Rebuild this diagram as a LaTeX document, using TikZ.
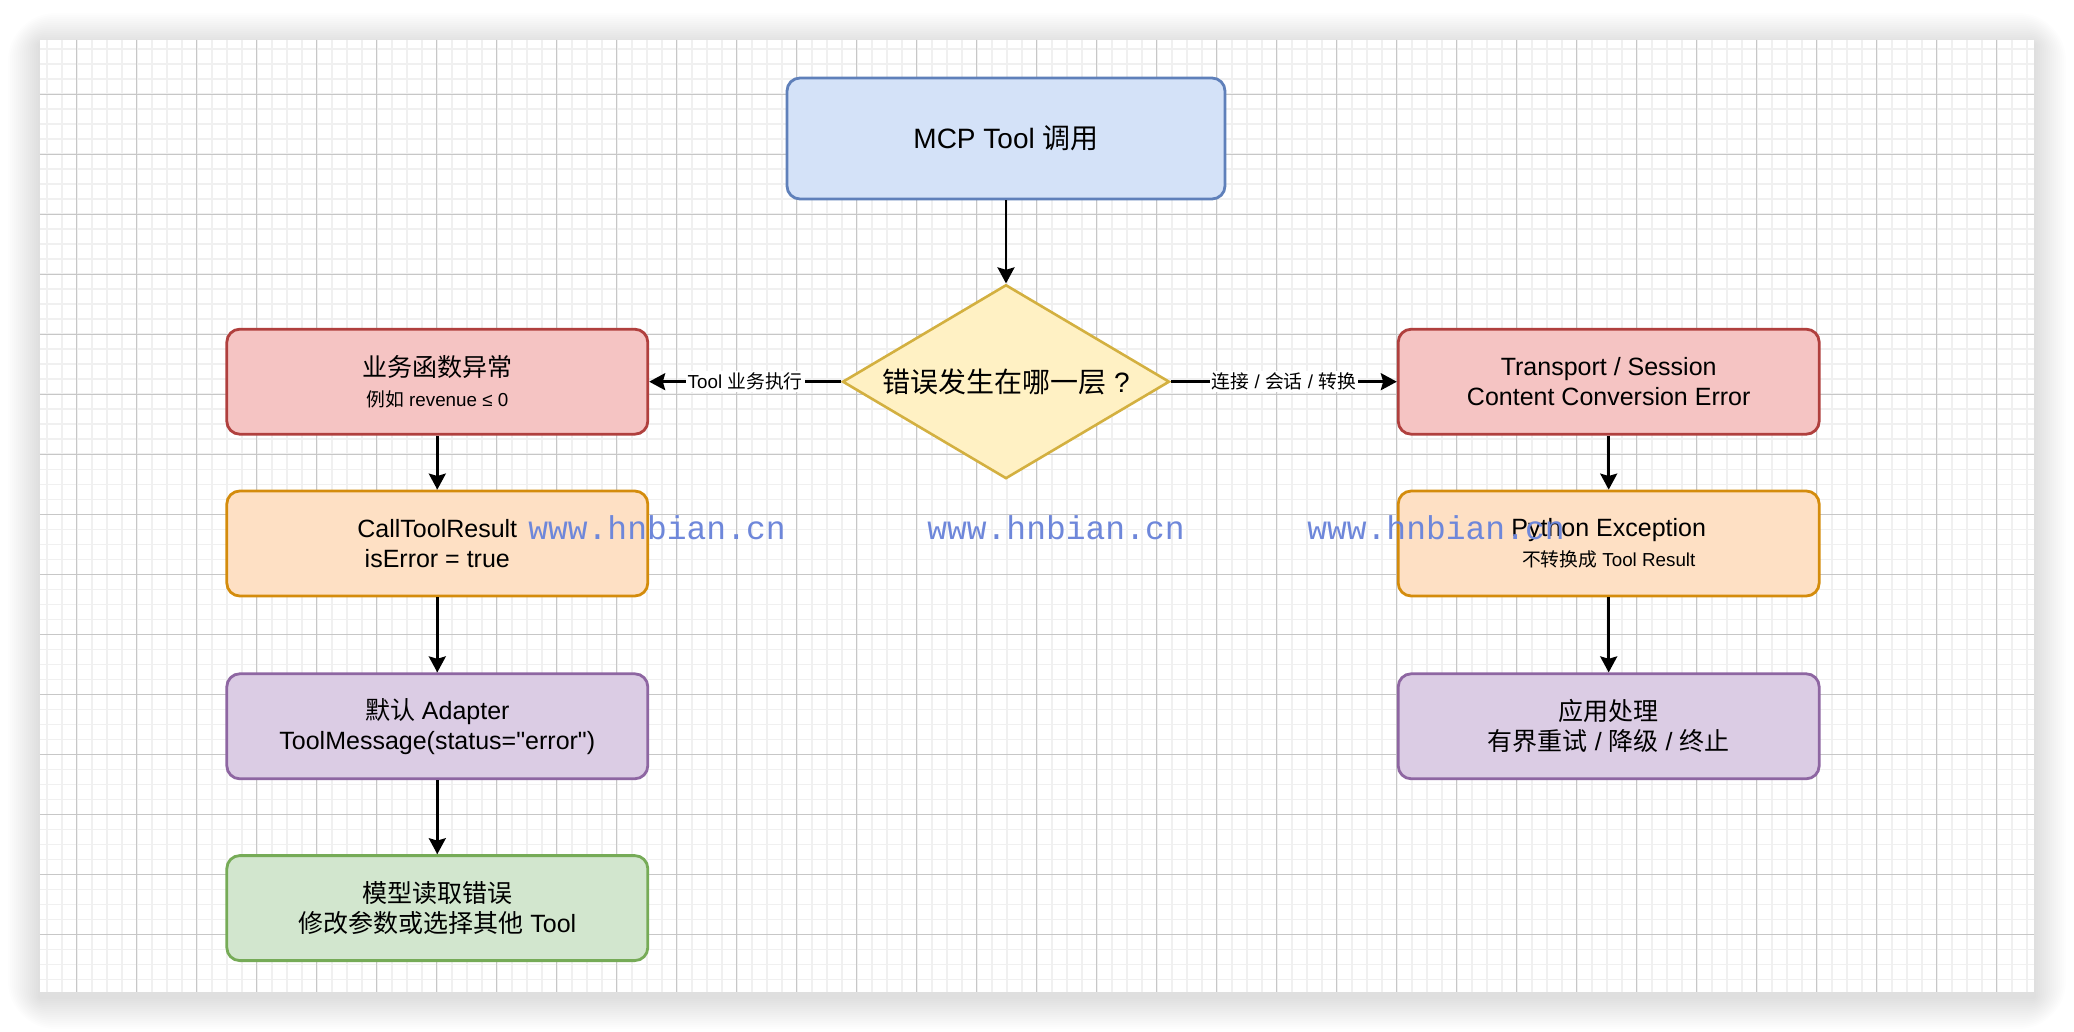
\documentclass[tikz,border=0pt]{standalone}
\usepackage{fontspec}
\setmainfont{Liberation Sans}[Ligatures=TeXOff]
\newfontfamily\cjk{Noto Sans CJK SC}
\newfontfamily\wmfont{Liberation Mono}
\usetikzlibrary{shapes.geometric, positioning, arrows.meta}

\definecolor{topfill}{HTML}{D4E2F8}
\definecolor{topline}{HTML}{5F80BA}
\definecolor{askfill}{HTML}{FFF1C4}
\definecolor{askline}{HTML}{D3B040}
\definecolor{redfill}{HTML}{F5C4C3}
\definecolor{redline}{HTML}{B0403E}
\definecolor{orgfill}{HTML}{FEE0C4}
\definecolor{orgline}{HTML}{D48C0C}
\definecolor{purfill}{HTML}{DBCCE4}
\definecolor{purline}{HTML}{8E66A2}
\definecolor{grnfill}{HTML}{D2E6CE}
\definecolor{grnline}{HTML}{76AB57}
\definecolor{wmblue}{HTML}{6E87DA}

\newcommand{\zh}[1]{{\cjk #1}}
\newcommand{\subtxt}{\fontsize{9.4}{11}\selectfont}

\begin{document}
\begin{tikzpicture}[x=0.5pt,y=-0.5pt,>={Stealth[length=8pt,width=8.5pt,inset=1.2pt]},
        main node/.style={rectangle,rounded corners=6.5pt,draw,line width=1.4pt,minimum width=210.5pt,
                          minimum height=52.5pt,align=center,inner sep=2pt,font=\fontsize{12.5}{15}\selectfont},
        top node/.style={main node,minimum width=219pt,minimum height=60.5pt,font=\fontsize{14}{17}\selectfont},
        ask node/.style={diamond,aspect=1.7,draw,line width=1.3pt,minimum width=163.5pt,minimum height=97pt,
                         inner sep=0pt,font=\fontsize{14}{17}\selectfont},
        watermark/.style={text=wmblue,font=\wmfont\fontsize{16.5}{18}\selectfont}]

    \useasboundingbox (0,0) rectangle (2074,1032);

    % soft shadow and grid paper
    \foreach \i in {1,...,16}
        \fill[black,opacity=0.007,rounded corners=\i*1.5pt] (40-\i*2,40-\i*2+5) rectangle (2034+\i*2,992+\i*2+5);
    \fill[white] (40,40) rectangle (2034,992);
    \foreach \x in {46.7,61.7,...,2034}
        \draw[color=black!6,line width=0.8pt] (\x,40) -- (\x,992);
    \foreach \y in {49.3,64.3,...,992}
        \draw[color=black!6,line width=0.8pt] (40,\y) -- (2034,\y);
    \foreach \x in {76.7,136.7,...,2034}
        \draw[color=black!22,line width=0.5pt] (\x,40) -- (\x,992);
    \foreach \y in {94.3,154.3,...,992}
        \draw[color=black!22,line width=0.5pt] (40,\y) -- (2034,\y);

    \node[top node,fill=topfill,draw=topline] (1) at (1006,138.5) {MCP Tool \zh{调用}};
    \node[ask node,fill=askfill,draw=askline] (2) [below=41.5pt of 1] {\zh{错误发生在哪一层} ?};

    \node[main node,fill=redfill,draw=redline] (3) [left=96pt of 2] {\zh{业务函数异常}\\{\subtxt\zh{例如} revenue ≤ 0}};
    \node[main node,fill=orgfill,draw=orgline] (4) [below=27pt of 3] {CallToolResult\\isError = true};
    \node[main node,fill=purfill,draw=purline] (5) [below=37.5pt of 4] {\zh{默认} Adapter\\ToolMessage(status="error")};
    \node[main node,fill=grnfill,draw=grnline] (6) [below=37pt of 5] {\zh{模型读取错误}\\\zh{修改参数或选择其他} Tool};

    \node[main node,fill=redfill,draw=redline] (7) [right=113pt of 2] {Transport / Session\\Content Conversion Error};
    \node[main node,fill=orgfill,draw=orgline] (8) [below=27pt of 7] {Python Exception\\{\subtxt\zh{不转换成} Tool Result}};
    \node[main node,fill=purfill,draw=purline] (9) [below=37.5pt of 8] {\zh{应用处理}\\\zh{有界重试} / \zh{降级} / \zh{终止}};

    \path[->,line width=1.3pt,every node/.style={font=\subtxt,fill=white,inner sep=1pt}]
        (1) edge (2)
        (2) edge node {Tool \zh{业务执行}} (3)
        (2) edge node {\zh{连接} / \zh{会话} / \zh{转换}} (7)
        (3) edge (4)
        (4) edge (5)
        (5) edge (6)
        (7) edge (8)
        (8) edge (9);

    \node[watermark] (w1) at (657,528) {www.hnbian.cn};
    \node[watermark] (w2) at (1056,528) {www.hnbian.cn};
    \node[watermark] (w3) at (1436,528) {www.hnbian.cn};
\end{tikzpicture}
\end{document}
